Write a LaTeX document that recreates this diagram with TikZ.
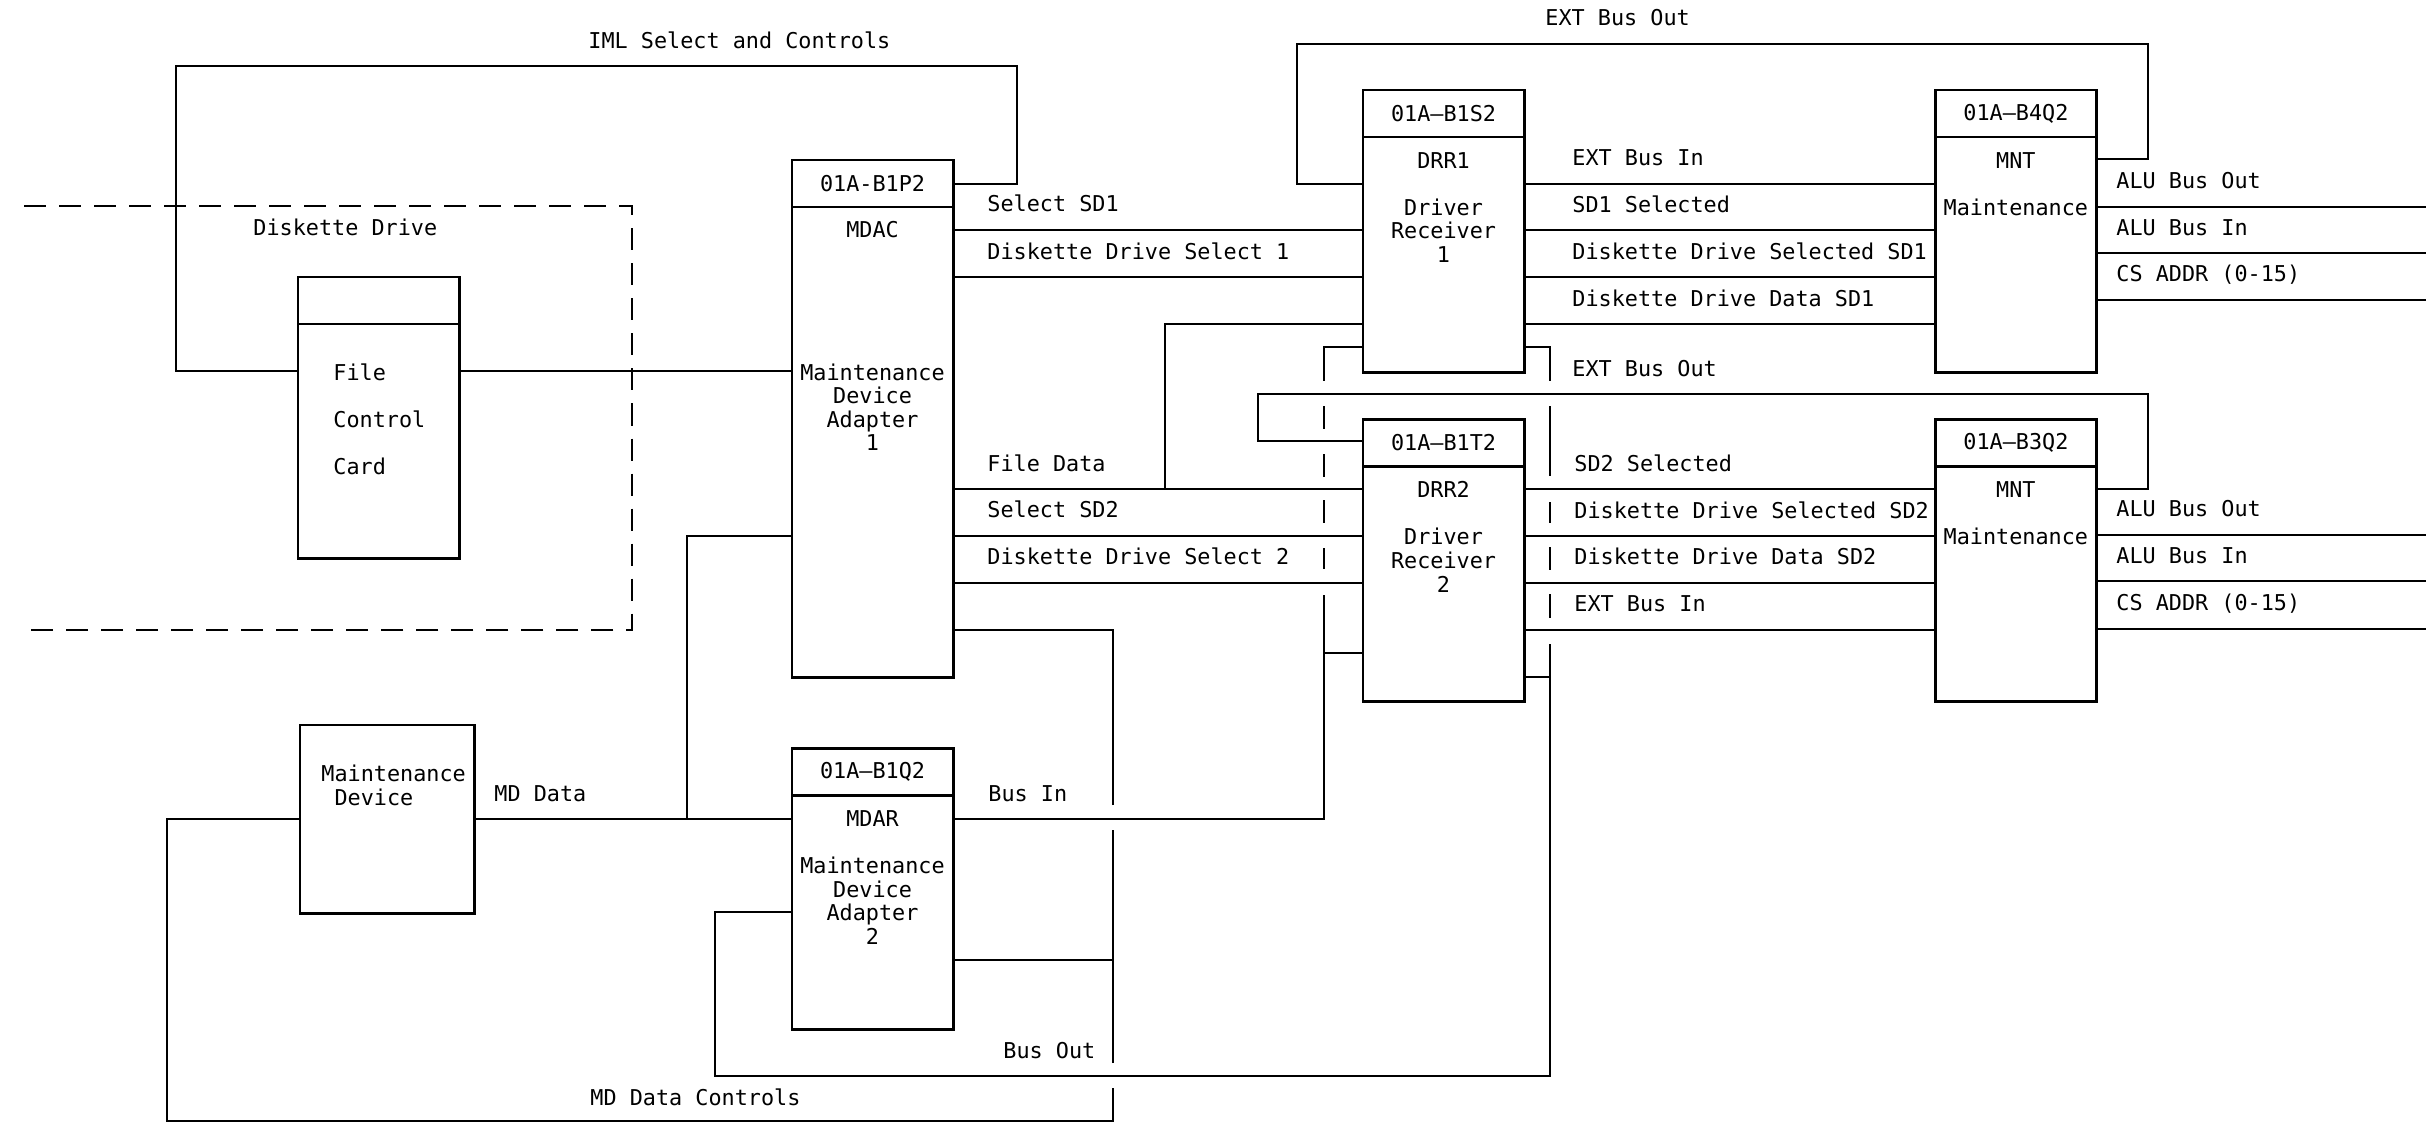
\documentclass[tikz,border=0pt]{standalone}
\usepackage{fontspec}
\setmonofont{DejaVu Sans Mono}
\usetikzlibrary{positioning}

\newcommand{\wirefont}{\ttfamily\fontsize{6.2}{6.7}\selectfont}

\begin{document}
\begin{tikzpicture}[
      x=0.01cm, y=-0.01cm, line width=0.8pt,
      unit/.style={draw, outer sep=0pt, inner sep=0pt, minimum width=1.61cm, font=\wirefont},
      head/.style={unit, minimum height=0.47cm},
      txt/.style={inner sep=0pt, align=center, anchor=north, font=\wirefont},
      sig/.style={inner sep=0pt, anchor=west, text height=4.5pt, text depth=0pt, font=\wirefont},
      region/.style={dash pattern=on 0.22cm off 0.13cm},
      brkin/.style={dash pattern=on 0.73cm off 0.25cm on 0.23cm off 0.25cm on 0.23cm off 0.23cm on 0.23cm off 0.25cm on 0.21cm off 0.26cm on 50cm},
      brkout/.style={dash pattern=on 0.60cm off 0.25cm on 0.70cm off 0.26cm on 0.21cm off 0.24cm on 0.23cm off 0.24cm on 0.24cm off 0.26cm on 50cm}
    ]
    \useasboundingbox (0,0) rectangle (2426,1123);

    % Boxes
    \node[head, anchor=north west] (fcchd) at (298,277) {};
    \node[unit, below=0pt of fcchd, minimum height=2.34cm] (fcc) {};
    \node[head, anchor=north west] (mdachd) at (792,160) {01A-B1P2};
    \node[unit, below=0pt of mdachd, minimum height=4.70cm] (mdac) {};
    \node[head, below=0.71cm of mdac] (mdarhd) {01A–B1Q2};
    \node[unit, below=0pt of mdarhd, minimum height=2.34cm] (mdar) {};
    \node[head, anchor=north west] (drr1hd) at (1363,90) {01A–B1S2};
    \node[unit, below=0pt of drr1hd, minimum height=2.35cm] (drr1) {};
    \node[head, below=0.47cm of drr1] (drr2hd) {01A–B1T2};
    \node[unit, below=0pt of drr2hd, minimum height=2.35cm] (drr2) {};
    \node[head, right=4.11cm of drr1hd] (b4q2hd) {01A–B4Q2};
    \node[unit, below=0pt of b4q2hd, minimum height=2.35cm] (b4q2) {};
    \node[head, right=4.11cm of drr2hd] (b3q2hd) {01A–B3Q2};
    \node[unit, below=0pt of b3q2hd, minimum height=2.35cm] (b3q2) {};
    \node[unit, anchor=north west, minimum width=1.74cm, minimum height=1.88cm] (md) at (300,725) {};

    % Box texts
    \node[txt, anchor=north west, align=left] (fcctx) at (332,362) {File\\[0.235cm]Control\\[0.235cm]Card};
    \node[txt] (mdactx) at ([yshift=-0.13cm]mdac.north) {MDAC};
    \node[txt] (mdacnm) at ([yshift=-1.55cm]mdac.north) {Maintenance\\Device\\Adapter\\1};
    \node[txt] (mdartx) at ([yshift=-0.14cm]mdar.north) {MDAR\\[0.235cm]Maintenance\\Device\\Adapter\\2};
    \node[txt] (drr1tx) at ([yshift=-0.14cm]drr1.north) {DRR1\\[0.235cm]Driver\\Receiver\\1};
    \node[txt] (drr2tx) at ([yshift=-0.14cm]drr2.north) {DRR2\\[0.235cm]Driver\\Receiver\\2};
    \node[txt] (b4q2tx) at ([yshift=-0.14cm]b4q2.north) {MNT\\[0.235cm]Maintenance};
    \node[txt] (b3q2tx) at ([yshift=-0.14cm]b3q2.north) {MNT\\[0.235cm]Maintenance};
    \node[txt, anchor=north west, align=left] (mdtx) at (320,764) {Maintenance\\~Device};

    % Rows and corners
    \coordinate (rA) at (0,184);
    \coordinate (rB) at (0,230);
    \coordinate (rC) at (0,277);
    \coordinate (rD) at (0,324);
    \coordinate (rE) at (0,347);
    \coordinate (rlnk) at (0,371);
    \coordinate (aluA) at (0,207);
    \coordinate (aluB) at (0,253);
    \coordinate (aluC) at (0,300);
    \coordinate (sA) at (0,489);
    \coordinate (sB) at (0,536);
    \coordinate (sC) at (0,583);
    \coordinate (sD) at (0,630);
    \coordinate (sE) at (0,653);
    \coordinate (sF) at (0,677);
    \coordinate (aluD) at (0,535);
    \coordinate (aluE) at (0,581);
    \coordinate (aluF) at (0,629);
    \coordinate (rM) at (0,960);
    \coordinate (edge) at (2426,0);
    \coordinate (imlA) at (176,66);
    \coordinate (imlB) at (1017,184);
    \coordinate (extA) at (1297,44);
    \coordinate (extB) at (2148,159);
    \coordinate (lpA) at (2148,394);
    \coordinate (lpB) at (1258,441);
    \coordinate (fdj) at (1165,489);
    \coordinate (binC) at (1324,819);
    \coordinate (boC) at (1550,1076);
    \coordinate (boL) at (715,912);
    \coordinate (mdj) at (687,819);
    \coordinate (mdcB) at (167,1121);
    \coordinate (hubA) at (1113,1088);
    \coordinate (hubB) at (1113,1063);
    \coordinate (hubC) at (1113,830);
    \coordinate (hubD) at (1113,805);
    \coordinate (ddA) at (24,206);
    \coordinate (ddB) at (632,630);

    % Diskette drive
    \draw[region] (ddA) -| (ddB) -- (ddA |- ddB);
    \draw (fcc.west |- rlnk) -| (imlA) -| (imlB) -- (mdac.east |- imlB);
    \draw (fcc.east |- rlnk) -- (mdac.west |- rlnk);

    % MDAC to driver receivers
    \draw (mdac.east |- rB) -- (drr1.west |- rB);
    \draw (mdac.east |- rC) -- (drr1.west |- rC);
    \draw (mdac.east |- sA) -- (drr2.west |- sA);
    \draw (fdj) |- (drr1.west |- rD);
    \draw (mdac.east |- sB) -- (drr2.west |- sB);
    \draw (mdac.east |- sC) -- (drr2.west |- sC);

    % EXT bus out loops
    \draw (drr1.west |- rA) -| (extA) -| (extB) -- (b4q2.east |- extB);
    \draw (b3q2.east |- sA) -| (lpA) -| (lpB) -- (drr2hd.west |- lpB);

    % Driver receivers to MNT, MNT outputs
    \foreach \r in {rA,rB,rC,rD} \draw (drr1.east |- \r) -- (b4q2.west |- \r);
    \foreach \r in {sA,sB,sC,sD} \draw (drr2.east |- \r) -- (b3q2.west |- \r);
    \foreach \r in {aluA,aluB,aluC} \draw (b4q2.east |- \r) -- (edge |- \r);
    \foreach \r in {aluD,aluE,aluF} \draw (b3q2.east |- \r) -- (edge |- \r);

    % Bus in / bus out
    \draw[brkin] (drr1.west |- rE) -| (binC) -- (mdar.east |- binC);
    \draw (binC |- sE) -- (drr2.west |- sE);
    \draw[brkout] (drr1.east |- rE) -| (boC) -| (boL) -- (mdar.west |- boL);
    \draw (drr2.east |- sF) -- (boC |- sF);

    % Maintenance device
    \draw (md.east |- binC) -- (mdar.west |- binC);
    \draw (mdj) |- (mdac.west |- sB);
    \draw (md.west |- binC) -| (mdcB) -| (hubA);
    \draw (hubB) -- (hubC);
    \draw (hubD) |- (mdac.east |- sD);
    \draw (mdar.east |- rM) -- (hubB |- rM);

    % Labels
    \node[sig] (imllb) at (587,41) {IML Select and Controls};
    \node[sig] (extlb) at (1544,18) {EXT Bus Out};
    \node[sig] (ddlb) at (252,228) {Diskette Drive};
    \node[sig] (sd1lb) at (986,204) {Select SD1};
    \node[sig] (dds1lb) at (986,252) {Diskette Drive Select 1};
    \node[sig] (fdlb) at (986,464) {File Data};
    \node[sig] (sd2lb) at (986,510) {Select SD2};
    \node[sig] (dds2lb) at (986,557) {Diskette Drive Select 2};
    \node[sig] (ebi1lb) at (1571,158) {EXT Bus In};
    \node[sig] (sd1slb) at (1571,205) {SD1 Selected};
    \node[sig] (ddss1lb) at (1571,252) {Diskette Drive Selected SD1};
    \node[sig] (ddd1lb) at (1571,299) {Diskette Drive Data SD1};
    \node[sig] (ebo2lb) at (1571,369) {EXT Bus Out};
    \node[sig] (sd2slb) at (1573,464) {SD2 Selected};
    \node[sig] (ddss2lb) at (1573,511) {Diskette Drive Selected SD2};
    \node[sig] (ddd2lb) at (1573,557) {Diskette Drive Data SD2};
    \node[sig] (ebi2lb) at (1573,604) {EXT Bus In};
    \node[sig] (alo1lb) at (2115,181) {ALU Bus Out};
    \node[sig] (ali1lb) at (2115,228) {ALU Bus In};
    \node[sig] (cs1lb) at (2115,274) {CS ADDR (0-15)};
    \node[sig] (alo2lb) at (2115,509) {ALU Bus Out};
    \node[sig] (ali2lb) at (2115,556) {ALU Bus In};
    \node[sig] (cs2lb) at (2115,603) {CS ADDR (0-15)};
    \node[sig] (mddlb) at (493,794) {MD Data};
    \node[sig] (binlb) at (987,794) {Bus In};
    \node[sig] (boutlb) at (1002,1051) {Bus Out};
    \node[sig] (mdclb) at (589,1098) {MD Data Controls};
  \end{tikzpicture}
\end{document}
